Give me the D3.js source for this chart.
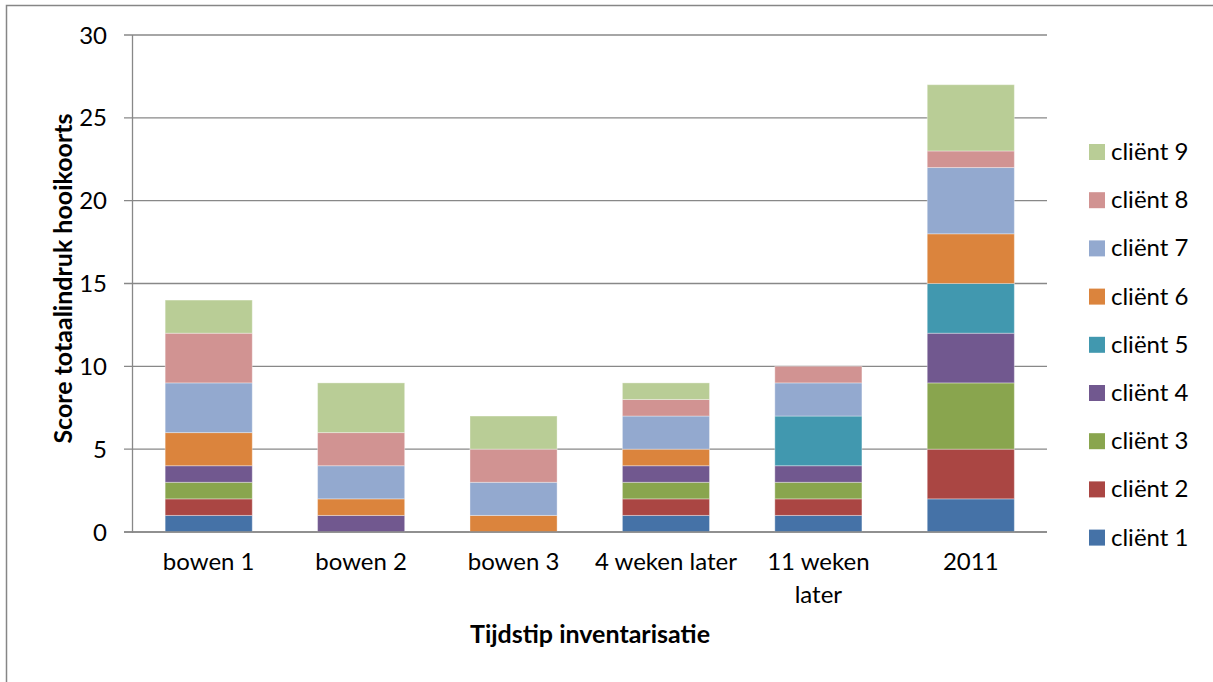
<!DOCTYPE html>
<html><head><meta charset="utf-8">
<script src="https://cdn.jsdelivr.net/npm/d3@7"></script>
<style>
html,body{margin:0;padding:0;background:#fff;}
svg{display:block;font-family:Lato, "Open Sans", sans-serif;}
</style></head>
<body>
<svg id="chart" width="1213" height="682"></svg>
<script>
const categories = ["bowen 1","bowen 2","bowen 3","4 weken later","11 weken later","2011"];
const seriesNames = ["cliënt 1","cliënt 2","cliënt 3","cliënt 4","cliënt 5","cliënt 6","cliënt 7","cliënt 8","cliënt 9"];
const client1 = [1,0,0,1,1,2];
const client2 = [1,0,0,1,1,3];
const client3 = [1,0,0,1,1,4];
const client4 = [1,1,0,1,1,3];
const client5 = [0,0,0,0,3,3];
const client6 = [2,1,1,1,0,3];
const client7 = [3,2,2,2,2,4];
const client8 = [3,2,2,1,1,1];
const client9 = [2,3,2,1,0,4];
const colors = ["#4572A7","#AA4643","#89A54E","#71588F","#4198AF","#DB843D","#93A9CF","#D19392","#B9CD96"];
const yTicks = [0,5,10,15,20,25,30];

const seriesValues = [client1,client2,client3,client4,client5,client6,client7,client8,client9];
const rows = categories.map((c,i)=>{const r={cat:c}; seriesNames.forEach((s,j)=>r[s]=seriesValues[j][i]); return r;});
const stacked = d3.stack().keys(seriesNames)(rows);

const svg = d3.select("#chart");
const pL=132.5, pR=1047, pT=35, pB=532;

svg.append("rect").attr("x",6.5).attr("y",5.5).attr("width",1240).attr("height",700)
  .attr("fill","none").attr("stroke","#868686").attr("stroke-width",1.5);

const x = d3.scaleBand().domain(categories).range([pL,pR]).paddingInner(0.75/1.75).paddingOuter(0.75/1.75/2);
const y = d3.scaleLinear().domain([0,30]).range([pB,pT]);

// gridlines
svg.append("g").selectAll("line").data(yTicks).join("line")
  .attr("x1",pL-8.5).attr("x2",pR).attr("y1",d=>y(d)).attr("y2",d=>y(d))
  .attr("stroke","#888").attr("stroke-width",1.3);

// bars
svg.append("g").selectAll("g").data(stacked).join("g")
  .attr("fill",(d,i)=>colors[i])
  .selectAll("rect").data(d=>d.filter(p=>p[1]-p[0]>0)).join("rect")
  .attr("x",d=>x(d.data.cat)).attr("width",x.bandwidth())
  .attr("y",d=>y(d[1])).attr("height",d=>y(d[0])-y(d[1]))
  .attr("stroke","rgba(255,255,255,0.35)").attr("stroke-width",1);

// axis lines
svg.append("line").attr("x1",pL).attr("x2",pL).attr("y1",pT).attr("y2",pB+1)
  .attr("stroke","#888").attr("stroke-width",1.3);
svg.append("line").attr("x1",pL-8.5).attr("x2",pR).attr("y1",pB).attr("y2",pB)
  .attr("stroke","#888").attr("stroke-width",1.5);

// y tick labels
svg.append("g").selectAll("text").data(yTicks).join("text")
  .attr("x",107).attr("y",d=>y(d)+8.5).attr("text-anchor","end")
  .attr("font-size",24).attr("fill","#000").text(d=>d);

// x labels
const xl = svg.append("g").selectAll("text").data(categories).join("text")
  .attr("x",d=>x(d)+x.bandwidth()/2).attr("y",570).attr("text-anchor","middle")
  .attr("font-size",24).attr("fill","#000");
xl.each(function(d){
  const t=d3.select(this);
  const lines = d==="11 weken later" ? ["11 weken","later"] : [d];
  lines.forEach((l,i)=>t.append("tspan").attr("x",x(d)+x.bandwidth()/2).attr("dy",i?33:0).text(l));
});

// axis titles
svg.append("text").attr("x",590).attr("y",643).attr("text-anchor","middle")
  .attr("font-size",25).attr("font-weight","bold").text("Tijdstip inventarisatie");
svg.append("text").attr("transform","translate(72,278.5) rotate(-90)").attr("text-anchor","middle")
  .attr("font-size",25).attr("font-weight","bold").text("Score totaalindruk hooikoorts");

// legend
const leg = svg.append("g").selectAll("g").data(seriesNames.slice().reverse()).join("g")
  .attr("transform",(d,i)=>`translate(1089,${152+i*48.2})`);
leg.append("rect").attr("x",0).attr("y",-8).attr("width",16).attr("height",16)
  .attr("fill",d=>colors[seriesNames.indexOf(d)]);
leg.append("text").attr("x",22).attr("y",8).attr("font-size",24).text(d=>d);
</script>
</body></html>
